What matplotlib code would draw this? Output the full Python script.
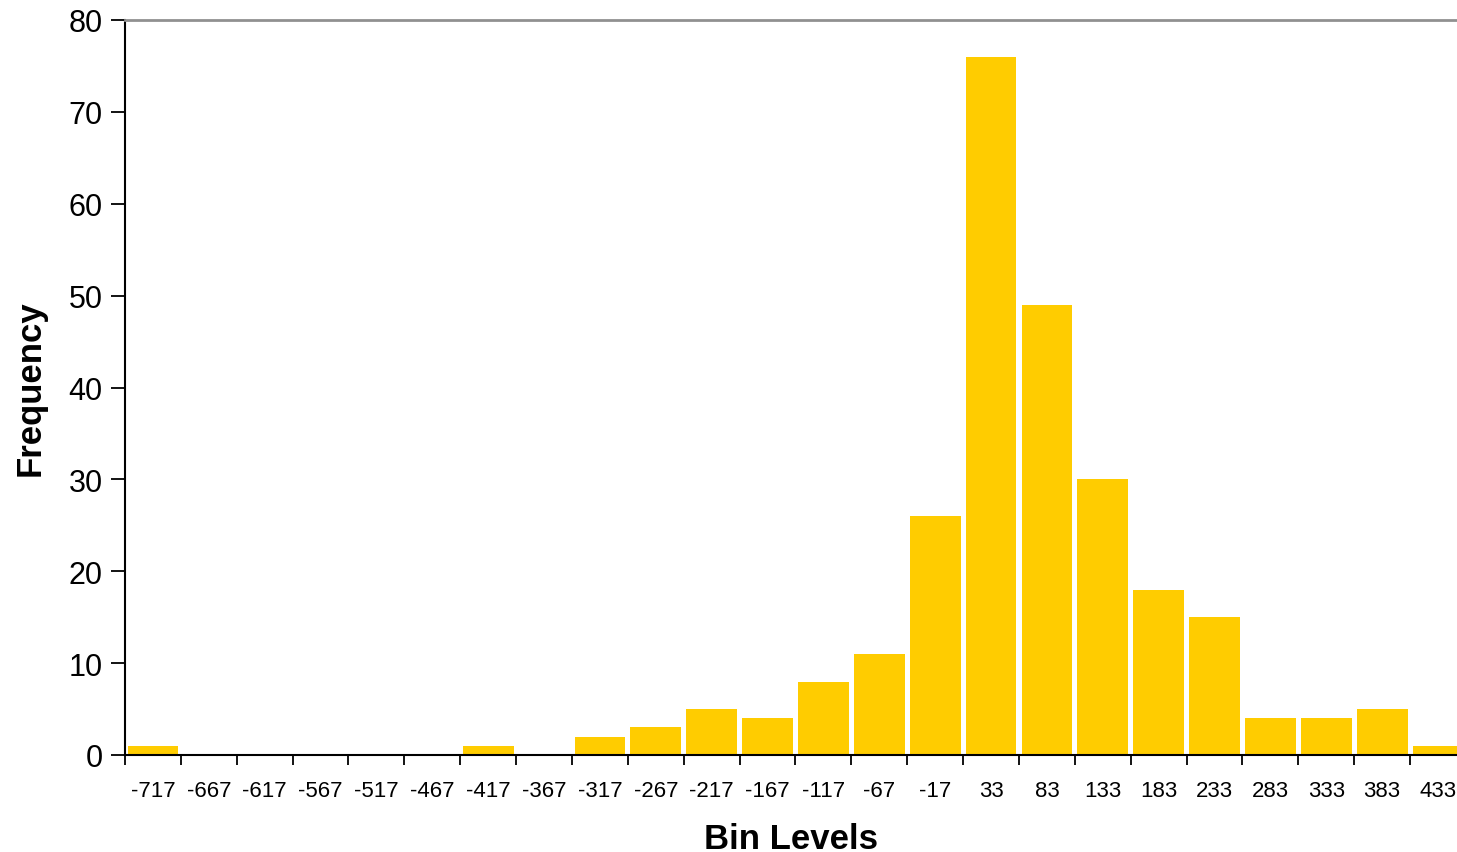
import numpy as np
from matplotlib import pyplot as plt

bins = [-717, -667, -617, -567, -517, -467, -417, -367, -317, -267, -217, -167,
        -117, -67, -17, 33, 83, 133, 183, 233, 283, 333, 383, 433]
freq = [1, 0, 0, 0, 0, 0, 1, 0, 2, 3, 5, 4, 8, 11, 26, 76, 49, 30, 18, 15, 4, 4, 5, 1]

plt.rcParams['font.family'] = ['Liberation Sans', 'DejaVu Sans']

fig = plt.figure(figsize=(14.57, 8.53), dpi=100)
ax = fig.add_axes([125 / 1457, 97 / 853, 1 - 125 / 1457, 735 / 853])

pos = np.arange(len(bins))
ax.bar(pos, freq, width=0.91, color="#FFCC00", edgecolor="none", zorder=2)

ax.set_ylim(0, 80)
ax.set_yticks(range(0, 81, 10))
ax.set_xlim(-0.5, len(bins) - 0.5 - 9 / 56)

ax.set_xticks(pos)
ax.set_xticklabels([str(b) for b in bins], fontsize=16)
ax.set_xticks(pos - 0.5, minor=True)
ax.tick_params(axis="x", which="major", length=0, pad=18)
ax.tick_params(axis="x", which="minor", length=7, width=1.3, direction="out")
ax.tick_params(axis="y", which="major", length=10, width=1.3, labelsize=22, pad=6)

for side in ["left", "bottom"]:
    ax.spines[side].set_color("black")
    ax.spines[side].set_linewidth(1.5)
ax.spines["top"].set_color("#909090")
ax.spines["top"].set_linewidth(2)
ax.spines["right"].set_visible(False)

ax.set_xlabel("Bin Levels", fontsize=25, fontweight="bold", labelpad=15)
ax.set_ylabel("Frequency", fontsize=25, fontweight="bold", labelpad=16)

plt.savefig("out.png", dpi=100)
